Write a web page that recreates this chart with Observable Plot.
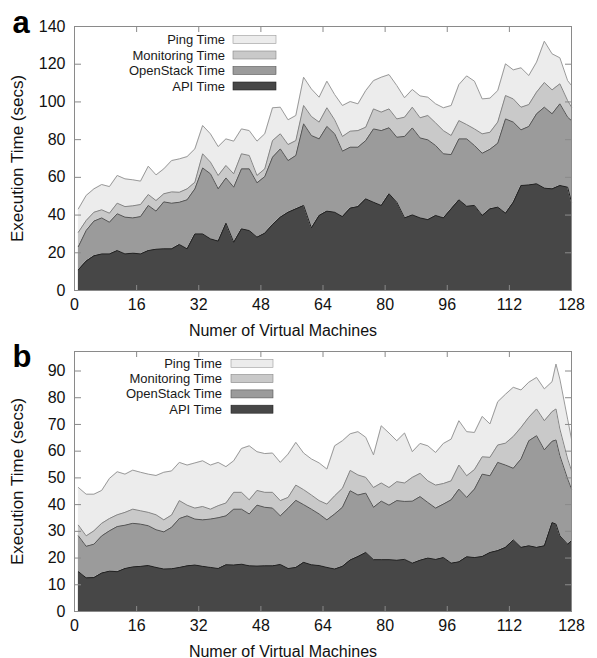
<!DOCTYPE html>
<html>
<head>
<meta charset="utf-8">
<script src="https://cdn.jsdelivr.net/npm/d3@7"></script>
<script src="https://cdn.jsdelivr.net/npm/@observablehq/plot@0.6"></script>
<style>
  html, body { margin: 0; padding: 0; background: #fff; }
  #chart { width: 597px; }
  #chart svg { display: block; }
</style>
</head>
<body>
<div id="chart"></div>
<script>
// ---------- data ----------
const seriesNames = ["API Time", "OpenStack Time", "Monitoring Time", "Ping Time"];
const legendOrder = ["Ping Time", "Monitoring Time", "OpenStack Time", "API Time"];
const xTicks = [0, 16, 32, 48, 64, 80, 96, 112, 128];
const yTicksA = [0, 20, 40, 60, 80, 100, 120, 140];
const yTicksB = [0, 10, 20, 30, 40, 50, 60, 70, 80, 90];

// Panel a
const vmA = [1,3,5,7,9,11,13,15,17,19,21,23,25,27,29,31,33,35,37,39,41,43,
  45,47,49,51,53,55,57,59,61,63,65,67,69,71,73,75,77,79,81,83,85,
  87,89,91,93,95,97,99,101,103,105,107,109,111,113,115,117,119,121,123,125,127,128];
const apiA = [11.0,15.6,18.4,19.4,19.4,21.2,19.4,19.8,19.4,21.2,21.9,22.1,22.1,24.4,22.1,30.0,30.0,27.4,26.2,35.7,25.6,32.7,
  31.8,28.3,30.4,35.0,38.9,41.5,43.3,45.1,33.2,39.8,42.1,41.5,39.2,43.7,44.5,48.6,46.8,45.1,51.3,46.8,38.5,
  40.1,38.5,37.6,39.8,38.5,43.3,48.1,44.7,45.1,39.8,43.3,44.2,41.0,46.8,55.7,56.0,56.6,54.3,53.9,55.7,54.8,46.8];
const openstackA = [12.3,16.2,18.4,19.1,16.8,19.5,19.5,18.7,19.8,23.9,20.2,24.9,24.2,22.4,26.0,23.9,35.0,34.5,27.7,24.0,29.2,31.8,
  32.7,28.8,30.0,35.7,36.2,27.4,28.3,43.3,49.0,40.6,44.9,41.6,34.7,32.3,31.5,30.9,38.9,39.7,35.0,34.5,43.2,
  46.1,42.4,42.3,37.1,34.0,28.8,32.3,35.7,31.8,33.0,31.6,33.9,50.0,42.5,29.5,31.0,37.1,42.9,39.8,43.3,37.1,43.3];
const monitoringA = [7.6,5.3,4.7,4.3,4.8,5.6,5.6,6.4,6.4,5.8,5.6,4.3,6.0,5.3,5.8,3.5,7.5,6.2,7.1,6.6,7.1,8.0,
  7.1,3.9,4.1,8.8,8.0,8.5,7.9,9.7,10.1,8.9,9.9,7.4,7.8,8.5,8.8,7.1,10.6,9.8,10.0,9.7,10.2,
  11.0,10.7,12.9,12.0,12.3,10.1,9.7,7.6,8.8,10.3,9.0,11.2,12.4,12.3,12.0,11.6,11.5,13.1,12.7,10.6,8.8,7.1];
const pingA = [12.4,13.3,12.4,13.4,14.1,14.7,14.7,13.8,12.4,15.0,13.6,13.2,16.6,17.7,17.1,17.7,15.0,15.0,15.3,14.1,17.3,13.2,
  13.2,18.2,18.6,17.4,14.1,13.1,13.3,15.0,14.6,13.2,14.1,13.4,16.4,15.7,14.2,19.4,15.0,18.5,18.2,17.7,10.3,
  9.4,11.6,9.7,10.1,12.1,15.9,19.1,25.8,25.3,18.5,18.1,16.7,16.8,15.4,20.9,15.4,15.9,21.9,19.1,13.8,10.6,11.5];

// Panel b
const vmB = [1,3,5,7,9,11,13,15,17,19,21,23,25,27,29,31,33,35,37,39,41,43,
  45,47,49,51,53,55,57,59,61,63,65,67,69,71,73,75,77,79,81,83,85,
  87,89,91,93,95,97,99,101,103,105,107,109,111,113,115,117,119,121,123,124,125,127,128];
const apiB = [14.9,12.6,12.7,14.4,15.1,14.9,16.1,16.7,16.9,17.2,16.5,15.9,16.0,16.5,17.1,17.4,16.9,16.5,16.1,17.5,17.4,17.7,
  17.1,17.0,17.1,17.1,17.6,16.1,16.5,18.4,17.5,17.2,16.5,15.9,16.9,19.3,20.6,22.1,19.4,19.4,19.4,19.2,19.5,
  18.1,19.2,20.0,19.5,20.2,18.1,18.6,20.5,20.2,20.6,22.1,22.8,24.0,26.8,24.0,24.6,24.0,24.6,33.3,32.7,28.3,25.2,26.5];
const openstackB = [13.4,11.8,12.5,13.9,15.1,16.9,16.2,16.3,15.8,14.9,14.1,13.9,15.5,18.3,18.7,17.2,17.4,18.1,19.0,18.3,20.9,20.6,
  19.4,22.8,21.9,21.6,18.2,22.5,25.1,21.6,20.8,19.3,17.8,20.6,22.1,25.9,23.0,22.2,19.6,21.9,20.4,22.3,21.7,
  23.2,23.8,20.8,19.2,20.0,23.7,27.2,22.2,25.6,30.8,28.7,33.0,30.8,26.8,33.1,39.3,41.8,35.9,30.4,31.5,30.0,24.4,19.3];
const monitoringB = [4.0,3.9,5.0,4.7,4.6,4.4,4.8,5.3,5.0,5.0,5.6,4.5,4.6,6.7,4.0,4.1,5.0,3.7,4.5,4.8,6.3,6.3,
  5.3,5.5,5.6,5.9,5.7,4.1,5.7,5.6,5.3,5.0,5.9,6.8,7.1,7.6,7.5,5.9,7.4,6.8,6.6,7.1,6.9,
  8.9,8.7,8.1,8.6,7.7,7.1,9.0,8.1,7.3,6.5,6.9,6.5,8.2,11.9,11.8,8.8,10.0,10.9,11.1,11.6,10.0,7.5,6.9];
const pingB = [14.1,15.6,13.7,12.3,15.0,16.1,14.3,14.6,14.4,14.3,14.7,17.8,16.5,14.3,15.0,16.9,17.1,16.5,16.2,13.6,11.8,16.4,
  20.2,14.5,14.5,14.7,14.3,16.2,16.0,13.7,13.5,14.1,13.1,18.7,17.8,13.7,16.2,15.0,12.2,21.4,20.4,15.3,18.7,
  9.6,11.2,13.1,12.2,15.0,15.6,16.6,16.5,13.9,15.1,12.5,16.2,18.3,18.4,14.0,13.1,11.8,11.9,11.2,16.8,18.7,14.9,11.8];

// ---------- styles ----------
const fills   = {"API Time": "#474747", "OpenStack Time": "#9b9b9b", "Monitoring Time": "#c9c9c9", "Ping Time": "#ececec"};
const strokes = {"API Time": "#222222", "OpenStack Time": "#555555", "Monitoring Time": "#858585", "Ping Time": "#9a9a9a"};
const FONT = "'Liberation Sans', Arial, Helvetica, sans-serif";
const frameColor = "#8a8a8a";

function panel({vm, values, yMax, yTicks, height, marginTop, letter, letterDy, legend}) {
  // stack bottom (API) to top (Ping)
  let base = vm.map(() => 0);
  const layers = seriesNames.map((name, k) => {
    const rows = vm.map((x, i) => ({x, y1: base[i], y2: base[i] + values[k][i]}));
    base = rows.map(r => r.y2);
    return {name, rows};
  });
  const marks = [];
  for (const L of layers) marks.push(Plot.areaY(L.rows, {x: "x", y1: "y1", y2: "y2", fill: fills[L.name], curve: "linear"}));
  for (const L of layers) marks.push(Plot.lineY(L.rows, {x: "x", y: "y2", stroke: strokes[L.name], strokeWidth: 1, curve: "linear"}));
  marks.push(Plot.frame({stroke: frameColor, strokeWidth: 1}));
  // inward ticks on all four sides
  marks.push(Plot.axisX(xTicks, {anchor: "top", frameAnchor: "bottom", tickSize: 6, fill: "none", stroke: frameColor, label: null}));
  marks.push(Plot.axisX(xTicks, {anchor: "bottom", frameAnchor: "top", tickSize: 6, fill: "none", stroke: frameColor, label: null}));
  marks.push(Plot.axisY(yTicks, {anchor: "right", frameAnchor: "left", tickSize: 6, fill: "none", stroke: frameColor, label: null}));
  marks.push(Plot.axisY(yTicks, {anchor: "left", frameAnchor: "right", tickSize: 6, fill: "none", stroke: frameColor, label: null}));
  // tick labels
  marks.push(Plot.axisX(xTicks, {anchor: "bottom", tickSize: 0, tickPadding: 8, fontSize: 16, fill: "#111", label: null}));
  marks.push(Plot.axisY(yTicks, {anchor: "left", tickSize: 0, tickPadding: 9, fontSize: 16, fill: "#111", label: null}));
  // axis titles and panel letter
  marks.push(Plot.text(["Numer of Virtual Machines"], {text: d => d, frameAnchor: "bottom", dx: -40, dy: 45, fontSize: 16, lineAnchor: "bottom", fill: "#111"}));
  marks.push(Plot.text(["Execution Time (secs)"], {text: d => d, frameAnchor: "left", dx: -57, rotate: -90, fontSize: 17, lineAnchor: "middle", textAnchor: "middle", fill: "#111"}));
  marks.push(Plot.text([letter], {text: d => d, frameAnchor: "top-left", dx: -62, dy: letterDy, fontSize: 31, fontWeight: "bold", textAnchor: "start", lineAnchor: "bottom", fill: "#000"}));

  const svg = Plot.plot({
    width: 597, height,
    marginLeft: 74, marginRight: 26, marginTop, marginBottom: 47,
    x: {domain: [0, 128], axis: null},
    y: {domain: [0, yMax], axis: null},
    style: {fontFamily: FONT, background: "#fff", overflow: "visible"},
    marks
  });

  // legend (inside the plot frame, top-left)
  const g = d3.select(svg).append("g").attr("font-family", FONT).attr("font-size", 13);
  legendOrder.forEach((name, i) => {
    const cy = legend.y0 + i * legend.dy;
    g.append("text").attr("x", legend.textRight).attr("y", cy).attr("dy", "0.35em")
      .attr("text-anchor", "end").attr("fill", "#1a1a1a").text(name);
    g.append("rect").attr("x", legend.sx).attr("y", cy - 4).attr("width", legend.sw).attr("height", 8)
      .attr("fill", fills[name]).attr("stroke", strokes[name]).attr("stroke-width", 0.6);
  });
  return svg;
}

const chart = document.getElementById("chart");
chart.append(panel({
  vm: vmA, values: [apiA, openstackA, monitoringA, pingA], yMax: 140, yTicks: yTicksA,
  height: 337, marginTop: 26, letter: "a", letterDy: 6,
  legend: {y0: 39.5, dy: 15.5, textRight: 225, sx: 233, sw: 43}
}));
chart.append(panel({
  vm: vmB, values: [apiB, openstackB, monitoringB, pingB], yMax: 97.3, yTicks: yTicksB,
  height: 321, marginTop: 14, letter: "b", letterDy: 15,
  legend: {y0: 26.3, dy: 15.3, textRight: 222, sx: 231, sw: 42}
}));
</script>
</body>
</html>
